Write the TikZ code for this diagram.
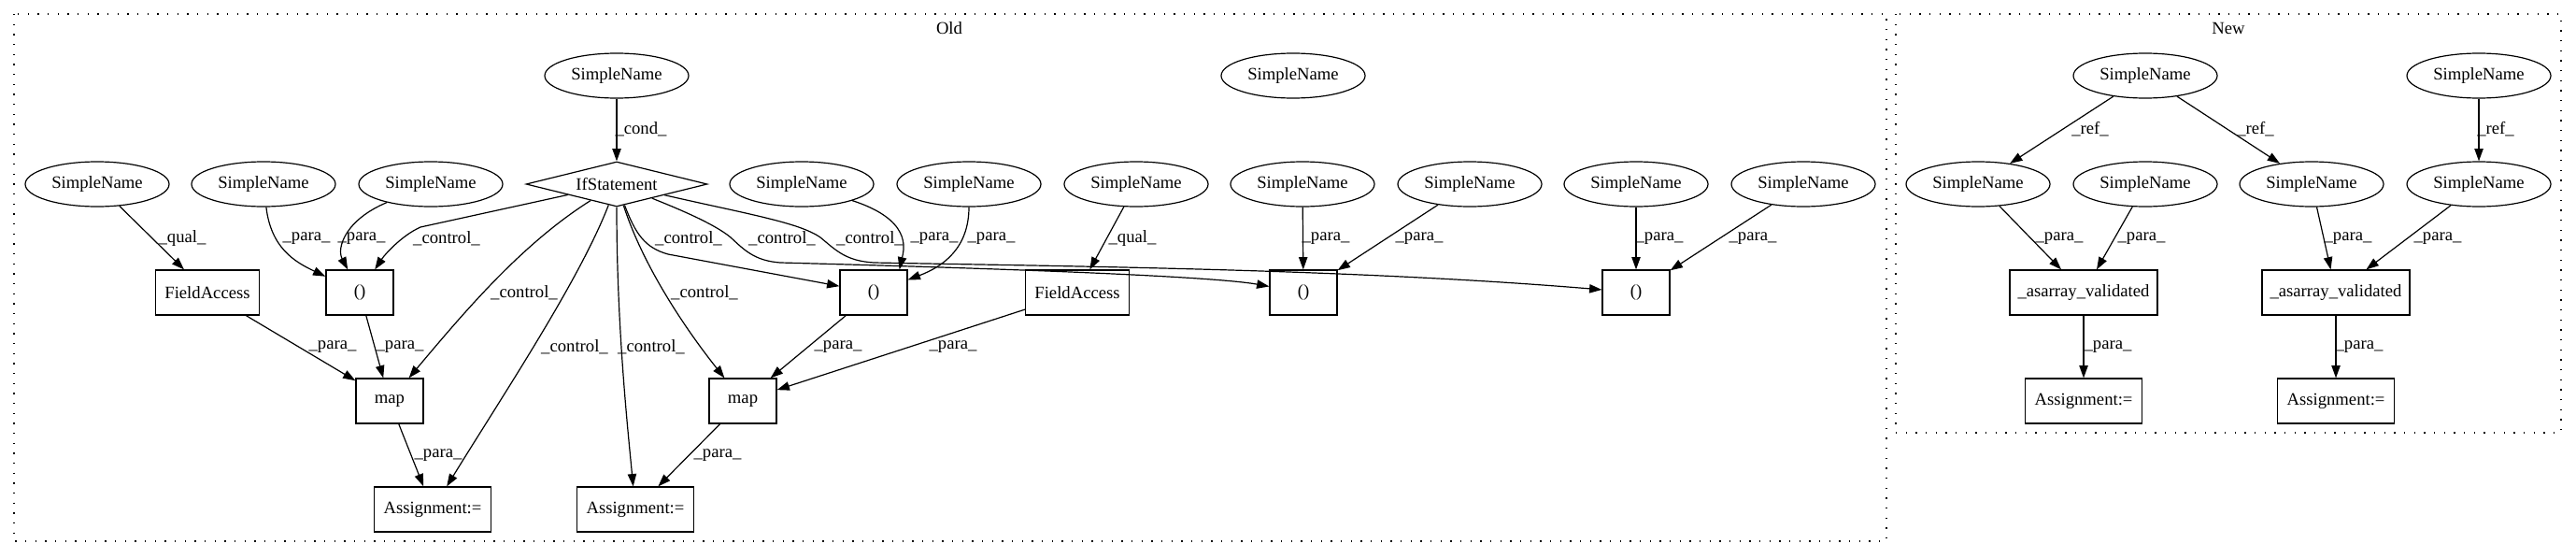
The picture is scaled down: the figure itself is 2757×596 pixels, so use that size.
\documentclass[tikz,border=0pt]{standalone}
\usepackage{fontspec}
\setmainfont{Liberation Serif}
\usetikzlibrary{shapes.geometric,arrows.meta}
\begin{document}
\begin{tikzpicture}[x=0.75pt,y=-0.75pt,
  txt/.style={font=\fontsize{14}{16}\selectfont},
  sn/.style={txt,ellipse,draw,line width=0.9pt,minimum width=115.5pt,minimum height=36pt,inner sep=0pt},
  bx/.style={txt,rectangle,draw,line width=0.9pt,minimum height=36pt,inner sep=0pt},
  dm/.style={txt,diamond,draw,line width=0.9pt,aspect=4,minimum width=145.5pt,minimum height=36pt,inner sep=0pt},
  e/.style={draw,line width=0.9pt,-{Triangle[length=10pt,width=7pt]}},
  lbl/.style={txt,inner sep=0pt},
  clus/.style={draw,line width=0.9pt,dash pattern=on 1pt off 7pt}]
\useasboundingbox (0,0) rectangle (2757,596);
% clusters
\draw[clus] (15,15) rectangle (2019,579);
\draw[clus] (2029,15) rectangle (2741,463);
\node[lbl] (oldlbl) at (1016,30) {Old};
\node[lbl] (newlbl) at (2385,30) {New};
% ---- Old nodes
\node[sn] (sncond) at (660,81) {SimpleName};
\node[sn] (sniso) at (1384,81) {SimpleName};
\node[dm] (ifs) at (660,197) {IfStatement};
\node[sn] (sn1) at (104,197) {SimpleName};
\node[sn] (sn2) at (282,197) {SimpleName};
\node[sn] (sn3) at (461,197) {SimpleName};
\node[sn] (sn4) at (858,197) {SimpleName};
\node[sn] (sn5) at (1037,197) {SimpleName};
\node[sn] (sn6) at (1216,197) {SimpleName};
\node[sn] (sn7) at (1394,197) {SimpleName};
\node[sn] (sn8) at (1573,197) {SimpleName};
\node[sn] (sn9) at (1751,197) {SimpleName};
\node[sn] (sn10) at (1930,197) {SimpleName};
\node[bx,minimum width=83.25pt] (fa1) at (222,313) {FieldAccess};
\node[bx,minimum width=54pt] (p1) at (385,313) {()};
\node[bx,minimum width=54pt] (p2) at (935,313) {()};
\node[bx,minimum width=83.25pt] (fa2) at (1153,313) {FieldAccess};
\node[bx,minimum width=54pt] (p3) at (1395,313) {()};
\node[bx,minimum width=54pt] (p4) at (1751,313) {()};
\node[bx,minimum width=54pt] (map1) at (417,429) {map};
\node[bx,minimum width=54pt] (map2) at (795,429) {map};
\node[bx,minimum width=94pt] (as1) at (463,545) {Assignment:=};
\node[bx,minimum width=94pt] (as2) at (680,545) {Assignment:=};
% ---- New nodes
\node[sn] (nsA) at (2296,81) {SimpleName};
\node[sn] (nsB) at (2653,81) {SimpleName};
\node[sn] (ns1) at (2117,197) {SimpleName};
\node[sn] (ns2) at (2296,197) {SimpleName};
\node[sn] (ns3) at (2474,197) {SimpleName};
\node[sn] (ns4) at (2653,197) {SimpleName};
\node[bx,minimum width=118.5pt] (av1) at (2230,313) {\_asarray\_validated};
\node[bx,minimum width=118.5pt] (av2) at (2500,313) {\_asarray\_validated};
\node[bx,minimum width=94pt] (na1) at (2230,429) {Assignment:=};
\node[bx,minimum width=94pt] (na2) at (2500,429) {Assignment:=};
% ---- Old edges
\draw[e] (sncond) -- (ifs);
\draw[e] (sn1) -- (fa1);
\draw[e] (sn2) .. controls (290,265) and (315,280) .. (p1);
\draw[e] (sn3) .. controls (370,235) and (360,265) .. (p1);
\draw[e] (ifs) -- (450,243) .. controls (430,252) and (412,272) .. (p1);
\draw[e] (ifs) .. controls (560,260) and (500,330) .. (map1);
\draw[e] (ifs) .. controls (620,300) and (540,420) .. (as1);
\draw[e] (ifs) .. controls (660,350) and (672,460) .. (as2);
\draw[e] (ifs) .. controls (690,290) and (740,360) .. (map2);
\draw[e] (ifs) .. controls (680,250) and (690,265) .. (715,272) -- (p2);
\draw[e] (ifs) .. controls (730,225) and (765,240) .. (782,254) .. controls (797,268) and (808,279) .. (835,281) .. controls (1100,288) and (1300,296) .. (p3);
\draw[e] (ifs) .. controls (800,229) and (855,238) .. (878,254) .. controls (895,268) and (905,279) .. (935,281) .. controls (1150,285) and (1450,288) .. (p4);
\draw[e] (sn4) .. controls (975,235) and (968,265) .. ([xshift=-6.75pt]p2.north east);
\draw[e] (sn5) .. controls (1037,265) and (1010,285) .. (p2);
\draw[e] (sn6) -- (fa2);
\draw[e] (sn7) -- (p3);
\draw[e] (sn8) -- (p3);
\draw[e] (sn9) -- (p4);
\draw[e] (sn10) -- (p4);
\draw[e] (fa1) -- (map1);
\draw[e] (p1) -- (map1);
\draw[e] (map1) -- (as1);
\draw[e] (p2) -- (map2);
\draw[e] (fa2) -- (map2);
\draw[e] (map2) -- (as2);
% ---- New edges
\draw[e] (nsA) -- (ns1);
\draw[e] (nsA) -- (ns3);
\draw[e] (nsB) -- (ns4);
\draw[e] (ns1) -- (av1);
\draw[e] (ns2) -- (av1);
\draw[e] (ns3) -- (av2);
\draw[e] (ns4) -- (av2);
\draw[e] (av1) -- (na1);
\draw[e] (av2) -- (na2);
% ---- labels Old
\node[lbl] (l1) at (686,138) {\_cond\_};
\node[lbl] (l2) at (195,255) {\_qual\_};
\node[lbl] (l3) at (328,255) {\_para\_};
\node[lbl] (l4) at (387,255) {\_para\_};
\node[lbl] (l5) at (478,255) {\_control\_};
\node[lbl] (l6) at (737,255) {\_control\_};
\node[lbl] (l7) at (837,255) {\_control\_};
\node[lbl] (l8) at (931,255) {\_control\_};
\node[lbl] (l9) at (1000,255) {\_para\_};
\node[lbl] (l10) at (1061,255) {\_para\_};
\node[lbl] (l11) at (1212,255) {\_qual\_};
\node[lbl] (l12) at (1419,255) {\_para\_};
\node[lbl] (l13) at (1519,255) {\_para\_};
\node[lbl] (l14) at (1776,255) {\_para\_};
\node[lbl] (l15) at (1876,255) {\_para\_};
\node[lbl] (l16) at (356,371) {\_para\_};
\node[lbl] (l17) at (428,371) {\_para\_};
\node[lbl] (l18) at (561,313) {\_control\_};
\node[lbl] (l19) at (615,371) {\_control\_};
\node[lbl] (l20) at (697,371) {\_control\_};
\node[lbl] (l21) at (754,313) {\_control\_};
\node[lbl] (l22) at (897,371) {\_para\_};
\node[lbl] (l23) at (1020,371) {\_para\_};
\node[lbl] (l24) at (469,487) {\_para\_};
\node[lbl] (l25) at (768,487) {\_para\_};
% ---- labels New
\node[lbl] (m1) at (2237,138) {\_ref\_};
\node[lbl] (m2) at (2414,138) {\_ref\_};
\node[lbl] (m3) at (2671,138) {\_ref\_};
\node[lbl] (m4) at (2204,255) {\_para\_};
\node[lbl] (m5) at (2292,255) {\_para\_};
\node[lbl] (m6) at (2513,255) {\_para\_};
\node[lbl] (m7) at (2609,255) {\_para\_};
\node[lbl] (m8) at (2256,371) {\_para\_};
\node[lbl] (m9) at (2525,371) {\_para\_};
\end{tikzpicture}
\end{document}
